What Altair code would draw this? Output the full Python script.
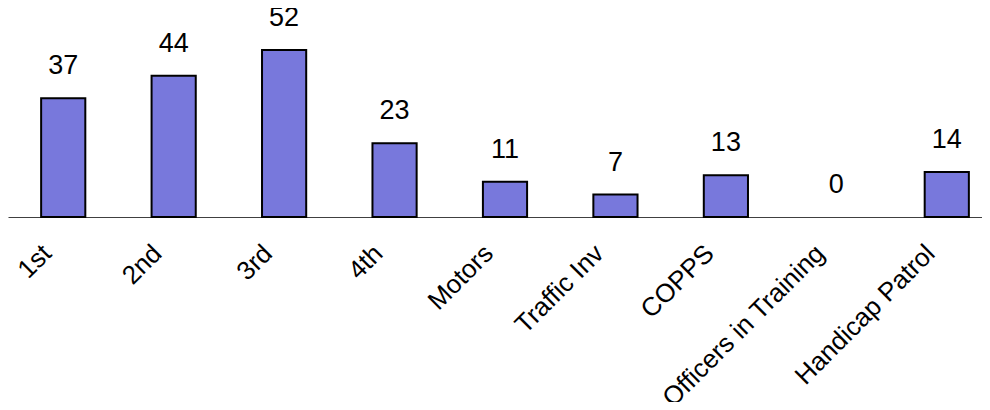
import altair as alt
import pandas as pd

categories = ["1st", "2nd", "3rd", "4th", "Motors", "Traffic Inv", "COPPS",
              "Officers in Training", "Handicap Patrol"]
values = [37, 44, 52, 23, 11, 7, 13, 0, 14]

df = pd.DataFrame({"unit": categories, "count": values})

FONT = "Liberation Sans"

x = alt.X(
    "unit:N",
    sort=None,
    title=None,
    scale=alt.Scale(domain=categories, range=[0, 994], paddingInner=0.6, paddingOuter=0.3),
    axis=alt.Axis(
        labelAngle=-45,
        labelAlign="right",
        labelBaseline="middle",
        labelPadding=32,
        labelOffset=-16,
        labelFontSize=26,
        labelFont=FONT,
        labelColor="#000000",
        ticks=False,
        domainColor="#404040",
        domainWidth=1.2,
        grid=False,
        labelOverlap=False,
        labelLimit=0,
    ),
)
y = alt.Y("count:Q", title=None, scale=alt.Scale(domain=[0, 60.75], nice=False), axis=None)

bars = alt.Chart(df).transform_filter(alt.datum.count > 0).mark_bar(
    color="#7878DC", stroke="#000000", strokeWidth=2
).encode(x=x, y=y)

labels = alt.Chart(df).mark_text(
    baseline="bottom", dy=-18, fontSize=27, font=FONT, color="#000000"
).encode(x=x, y=y, text="count:Q")

chart = (bars + labels).properties(
    width=974,
    height=195,
    autosize=alt.AutoSizeParams(type="none"),
    padding={"left": 0, "top": 14, "right": 0, "bottom": 185},
).configure_view(stroke=None)

chart.save("out.html", embed_options={"renderer": "svg", "actions": False})
